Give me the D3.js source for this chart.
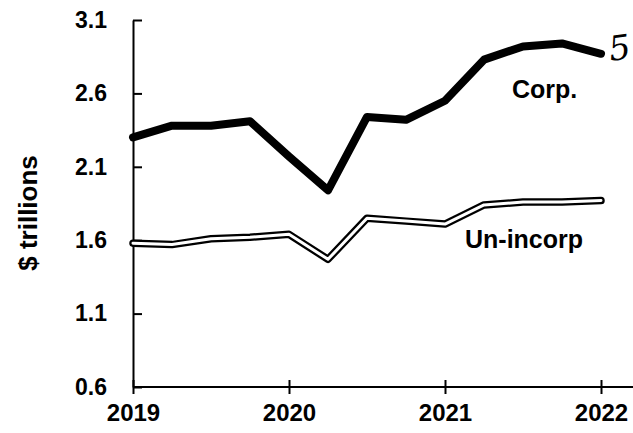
<!DOCTYPE html>
<html>
<head>
<meta charset="utf-8">
<script src="https://cdn.jsdelivr.net/npm/d3@7"></script>
<style>
  html, body { margin: 0; padding: 0; background: #fff; }
  svg { display: block; }
  text { font-family: "Liberation Sans", Arial, sans-serif; fill: #000; }
</style>
</head>
<body>
<svg id="chart" width="633" height="433"></svg>
<script>
// quarterly observations, 2019 Q1 .. 2022 Q1
const quarters = [2019, 2019.25, 2019.5, 2019.75, 2020, 2020.25, 2020.5, 2020.75, 2021, 2021.25, 2021.5, 2021.75, 2022];
const corpValues = [2.30, 2.38, 2.38, 2.41, 2.17, 1.94, 2.44, 2.42, 2.55, 2.83, 2.92, 2.94, 2.87];
const unincorpValues = [1.58, 1.57, 1.61, 1.62, 1.64, 1.47, 1.75, 1.73, 1.71, 1.84, 1.86, 1.86, 1.87];
const yTicks = [0.6, 1.1, 1.6, 2.1, 2.6, 3.1];
const xTicks = [2019, 2020, 2021, 2022];
const yTitle = "$ trillions";
const seriesLabels = ["Corp.", "Un-incorp"];

const svg = d3.select("#chart");
const x = d3.scaleLinear().domain([2019, 2022]).range([133, 601]);
const y = d3.scaleLinear().domain([0.6, 3.1]).range([387, 20]);

// y axis
const yAxis = svg.append("g")
  .attr("transform", `translate(${x(2019)},0)`)
  .call(d3.axisLeft(y).tickValues(yTicks).tickFormat(d3.format(".1f")).tickSizeInner(7).tickSizeOuter(0).tickPadding(19));
yAxis.select(".domain").attr("stroke", "#000").attr("stroke-width", 2);
yAxis.selectAll(".tick line").attr("x2", 9).attr("stroke", "#000").attr("stroke-width", 2);
yAxis.selectAll(".tick text").style("font-size", "23px").style("font-weight", "bold").attr("fill", "#000");

// x axis
const xAxis = svg.append("g")
  .attr("transform", `translate(0,${y(0.6)})`)
  .call(d3.axisBottom(x).tickValues(xTicks).tickFormat(d3.format("d")).tickSizeInner(7).tickSizeOuter(0).tickPadding(10));
xAxis.select(".domain").remove();
xAxis.append("line").attr("x1", x(2019)).attr("x2", 633).attr("y1", 0).attr("y2", 0)
  .attr("stroke", "#000").attr("stroke-width", 2);
xAxis.selectAll(".tick line").attr("y1", -7).attr("stroke", "#000").attr("stroke-width", 2);
xAxis.selectAll(".tick text").style("font-size", "24px").style("font-weight", "bold").attr("fill", "#000");

// y title
svg.append("text")
  .attr("transform", `translate(37,213) rotate(-90)`)
  .attr("text-anchor", "middle")
  .style("font-size", "26px").style("font-weight", "bold")
  .text(yTitle);

const line = d3.line().x((d, i) => x(quarters[i])).y(d => y(d));

// Un-incorporated: double line (black outline, white core)
svg.append("path").datum(unincorpValues).attr("d", line)
  .attr("fill", "none").attr("stroke", "#000").attr("stroke-width", 7.5)
  .attr("stroke-linejoin", "round").attr("stroke-linecap", "round");
svg.append("path").datum(unincorpValues).attr("d", line)
  .attr("fill", "none").attr("stroke", "#fff").attr("stroke-width", 3)
  .attr("stroke-linejoin", "round").attr("stroke-linecap", "round");

// Corporate: heavy black line
svg.append("path").datum(corpValues).attr("d", line)
  .attr("fill", "none").attr("stroke", "#000").attr("stroke-width", 8)
  .attr("stroke-linejoin", "round").attr("stroke-linecap", "round");

// series labels
svg.append("text").attr("x", 512).attr("y", 98)
  .style("font-size", "25px").style("font-weight", "bold").text(seriesLabels[0]);
svg.append("text").attr("x", 465).attr("y", 248)
  .style("font-size", "25px").style("font-weight", "bold").text(seriesLabels[1]);

// handwritten mark at top-right edge
svg.append("text").attr("x", 632).attr("y", 58)
  .attr("text-anchor", "end")
  .attr("transform", "rotate(-8,632,58)")
  .style("font-family", "'DejaVu Serif', serif").style("font-style", "italic")
  .style("font-size", "34px").text("5");
</script>
</body>
</html>
